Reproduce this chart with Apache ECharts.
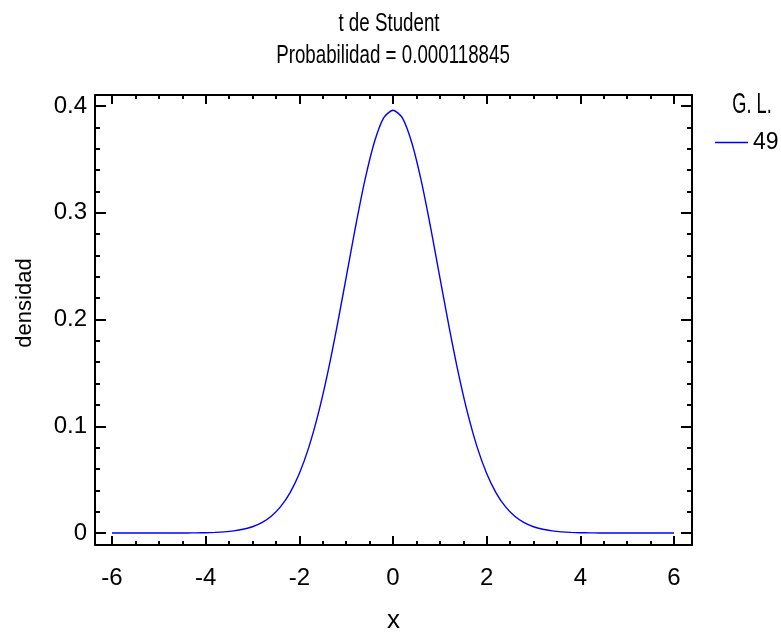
<!DOCTYPE html>
<html>
<head>
<meta charset="utf-8">
<script src="https://cdn.jsdelivr.net/npm/echarts@6/dist/echarts.min.js"></script>
<style>html,body{margin:0;padding:0;background:#fff}#c{width:781px;height:632px}</style>
</head>
<body>
<div id="c"></div>
<script>
// ---- data ----
const xValues = [-6,-5.8,-5.6,-5.4,-5.2,-5,-4.8,-4.6,-4.4,-4.2,-4,-3.8,-3.6,-3.4,-3.2,-3,-2.8,-2.6,-2.4,-2.2,-2,-1.8,-1.6,-1.4,-1.2,-1,-0.8,-0.6,-0.4,-0.2,0,0.2,0.4,0.6,0.8,1,1.2,1.4,1.6,1.8,2,2.2,2.4,2.6,2.8,3,3.2,3.4,3.6,3.8,4,4.2,4.4,4.6,4.8,5,5.2,5.4,5.6,5.8,6];
const density = [0,0,0,0,0,0,0,0,0.0001,0.0002,0.0003,0.0006,0.0011,0.0020,0.0035,0.0059,0.0097,0.0157,0.0247,0.0377,0.0558,0.0800,0.1111,0.1489,0.1924,0.2395,0.2869,0.3305,0.3658,0.3889,0.396,0.3889,0.3658,0.3305,0.2869,0.2395,0.1924,0.1489,0.1111,0.0800,0.0558,0.0377,0.0247,0.0157,0.0097,0.0059,0.0035,0.0020,0.0011,0.0006,0.0003,0.0002,0.0001,0,0,0,0,0,0,0,0];
const seriesName = '49';
const legendTitle = 'G. L.';
const titleText = 't de Student';
const subtitleText = 'Probabilidad = 0.000118845';
const xAxisName = 'x';
const yAxisName = 'densidad';
const xMajorTicks = [-6,-4,-2,0,2,4,6];
const xMinorTicks = [-6,-5.5,-5,-4.5,-4,-3.5,-3,-2.5,-2,-1.5,-1,-0.5,0,0.5,1,1.5,2,2.5,3,3.5,4,4.5,5,5.5,6];
const yMajorTicks = [0,0.1,0.2,0.3,0.4];
const yMinorTicks = [0,0.02,0.04,0.06,0.08,0.1,0.12,0.14,0.16,0.18,0.2,0.22,0.24,0.26,0.28,0.3,0.32,0.34,0.36,0.38,0.4];
const xRange = [-6.363, 6.384];
const yRange = [-0.0112, 0.4103];

// ---- styling ----
const SANS = "'Liberation Sans',Arial,sans-serif";
const points = xValues.map((x, i) => [x, density[i]]);

function ax(kind, pos, ticks, len, labels, showLine) {
  const r = kind === 'x' ? xRange : yRange;
  return {
    type: 'value', position: pos, min: r[0], max: r[1],
    axisLine: {show: showLine, onZero: false, lineStyle: {color: '#000', width: 2}},
    axisTick: {show: true, inside: true, length: len, customValues: ticks, lineStyle: {color: '#000', width: 2}},
    axisLabel: labels ? {show: true, customValues: labels, margin: kind === 'x' ? 21 : 8,
      fontFamily: SANS, fontSize: 24, color: '#000'} : {show: false},
    splitLine: {show: false}
  };
}

const xAxes = [
  ax('x', 'bottom', xMajorTicks, 9, xMajorTicks, true),
  ax('x', 'bottom', xMinorTicks, 4, null, false),
  ax('x', 'top', xMajorTicks, 9, null, true),
  ax('x', 'top', xMinorTicks, 4, null, false)
];
xAxes[0].name = xAxisName;
xAxes[0].nameLocation = 'middle';
xAxes[0].nameGap = 63;
xAxes[0].nameTextStyle = {fontFamily: SANS, fontSize: 26, color: '#000'};

const yAxes = [
  ax('y', 'left', yMajorTicks, 11, yMajorTicks, true),
  ax('y', 'left', yMinorTicks, 5, null, false),
  ax('y', 'right', yMajorTicks, 11, null, true),
  ax('y', 'right', yMinorTicks, 5, null, false)
];

const chart = echarts.init(document.getElementById('c'), null, {renderer: 'canvas'});
chart.setOption({
  animation: false,
  backgroundColor: '#fff',
  grid: {left: 95, top: 95, width: 597, height: 450, containLabel: false, outerBoundsMode: 'none'},
  xAxis: xAxes,
  yAxis: yAxes,
  legend: {
    data: [seriesName], left: 715, top: 131, padding: 0,
    icon: 'rect', itemWidth: 33, itemHeight: 1.5,
    textStyle: {fontFamily: SANS, fontSize: 23, color: '#000'}
  },
  graphic: [
    {type: 'text', x: 389, y: 24, scaleX: 0.75, scaleY: 1.05, style: {text: titleText, fontFamily: SANS, fontSize: 25, fill: '#000', align: 'center', verticalAlign: 'middle'}},
    {type: 'text', x: 393, y: 56, scaleX: 0.75, scaleY: 1.05, style: {text: subtitleText, fontFamily: SANS, fontSize: 25, fill: '#000', align: 'center', verticalAlign: 'middle'}},
    {type: 'text', x: 752, y: 105, scaleX: 0.7, scaleY: 1.15, style: {text: legendTitle, fontFamily: SANS, fontSize: 26, fill: '#000', align: 'center', verticalAlign: 'middle'}},
    {type: 'text', x: 25, y: 303, rotation: Math.PI / 2, style: {text: yAxisName, fontFamily: SANS, fontSize: 22, fill: '#000', align: 'center', verticalAlign: 'middle'}}
  ],
  series: [{
    name: seriesName, type: 'line', data: points, xAxisIndex: 0, yAxisIndex: 0,
    symbol: 'none', smooth: 0.25,
    lineStyle: {color: '#0000ff', width: 1.4}, itemStyle: {color: '#0000ff'}
  }]
});
</script>
</body>
</html>
